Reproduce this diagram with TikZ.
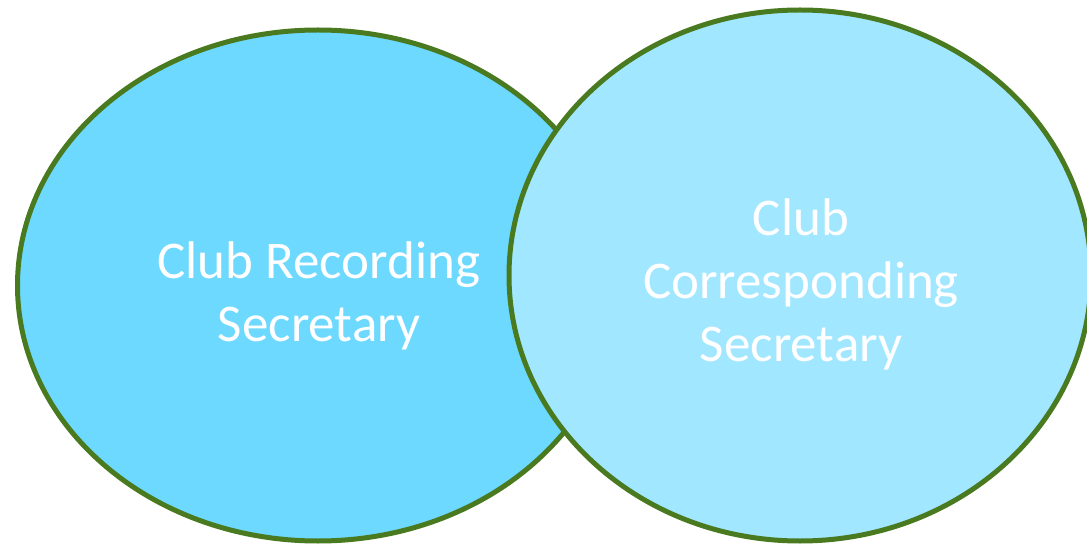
\documentclass[tikz,border=0pt]{standalone}
\usepackage{fontspec}
\setmainfont{Carlito}
\usepackage{xcolor}
\usetikzlibrary{
	shapes.geometric,
	positioning,
	calc
}
\definecolor{ringgreen}{HTML}{4A7A1F}
\definecolor{recblue}{HTML}{6DD9FF}
\definecolor{corblue}{HTML}{A1E7FF}

\begin{document}
\begin{tikzpicture}[
			x=1pt, y=-1pt,
			ring/.style={ellipse, draw=ringgreen, line width=5pt, inner sep=0pt},
			txt/.style={align=center, text=white, font=\fontsize{53}{63}\selectfont}
		]
			\useasboundingbox (0,0) rectangle (1087,545);
			\node[ring, fill=recblue, minimum width=601pt, minimum height=511pt] (rec) at (318,285.5) {};
			\node[ring, fill=corblue, minimum width=582pt, minimum height=531pt] (cor) at (800,275.5) {};
			\node[txt] (rectxt) at ($(rec.center)+(1,10)$) {Club Recording\\Secretary};
			\node[txt] (cortxt) at ($(cor.center)+(1,9)$) {Club\\Corresponding\\Secretary};
		\end{tikzpicture}
\end{document}
